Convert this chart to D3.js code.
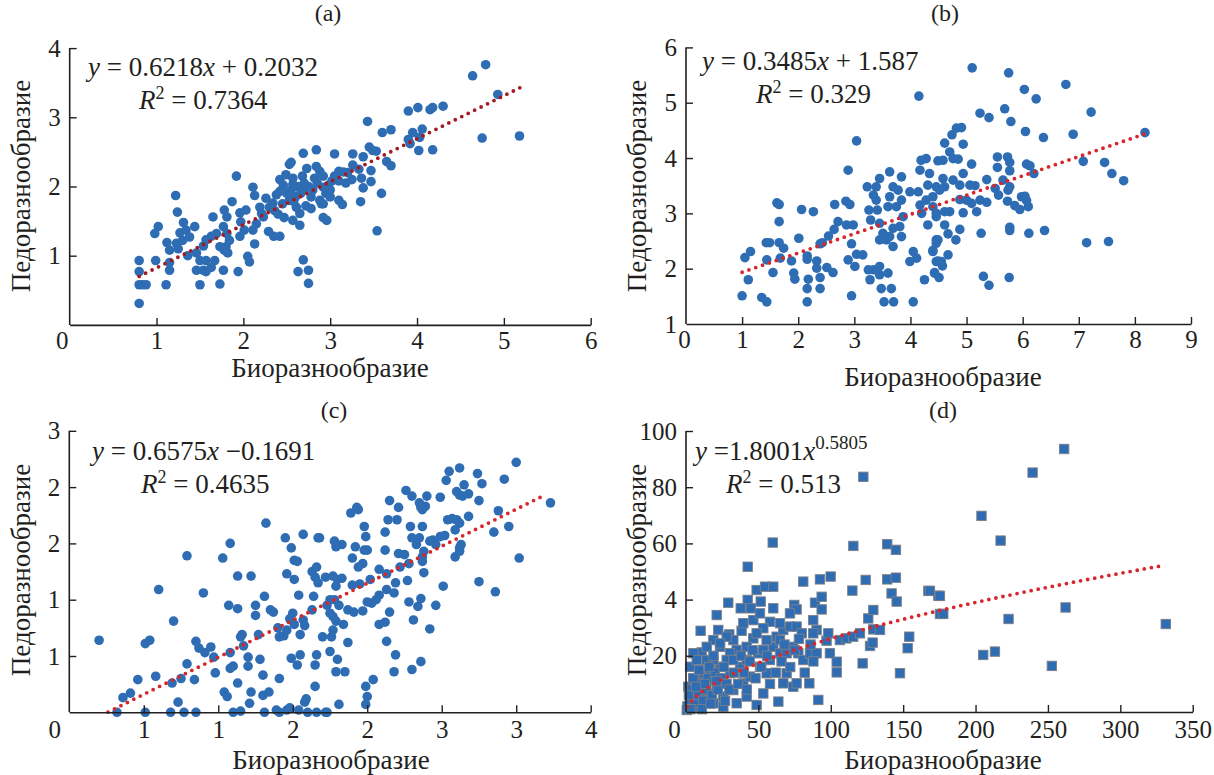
<!DOCTYPE html>
<html><head><meta charset="utf-8">
<script src="https://cdn.jsdelivr.net/npm/d3@7"></script>
<style>
body{margin:0;background:#fff}
svg{display:block}
text{font-family:"Liberation Serif","Times New Roman",Times,serif;fill:#231f20}
</style>
</head><body>
<svg id="chart" width="1214" height="775"></svg>
<script>
// ---------- DATA ----------
const pointsA = [[0.80,0.31],[0.80,0.58],[0.84,0.58],[0.88,0.58],[0.80,0.77],[0.80,0.93],[0.99,0.93],[1.11,0.58],[1.15,0.79],[1.15,0.90],[0.98,1.32],[1.02,1.42],[1.12,1.19],[1.15,1.08],[1.22,1.87],[1.24,1.63],[1.31,1.48],[1.27,1.33],[1.34,1.37],[1.44,1.42],[1.25,1.10],[1.23,1.18],[1.30,1.22],[1.38,1.27],[1.36,1.00],[1.46,1.04],[1.54,1.14],[1.57,1.23],[1.63,1.28],[1.69,1.32],[1.46,0.79],[1.54,0.79],[1.57,0.77],[1.63,0.83],[1.67,0.93],[1.57,0.93],[1.50,0.93],[1.50,0.58],[1.73,0.59],[1.77,0.79],[1.65,1.56],[1.78,1.66],[1.81,1.56],[1.87,1.78],[1.77,1.42],[1.81,1.32],[1.84,1.22],[1.78,1.08],[1.82,1.04],[1.73,1.13],[1.80,1.13],[1.92,2.15],[1.94,0.77],[2.05,0.99],[2.07,0.91],[1.96,1.62],[2.03,1.66],[1.97,1.49],[2.01,1.37],[1.96,1.28],[2.11,1.99],[2.13,1.87],[2.19,1.70],[2.21,1.61],[2.15,1.46],[2.11,1.37],[2.13,1.17],[2.23,1.56],[2.29,1.35],[2.35,1.28],[2.42,1.28],[2.26,1.83],[2.34,1.76],[2.38,1.88],[2.42,1.93],[2.42,2.10],[2.49,2.17],[2.57,2.12],[2.53,2.32],[2.55,2.35],[2.57,2.03],[2.69,2.48],[2.84,2.53],[2.73,2.26],[2.84,2.29],[2.88,2.22],[2.92,2.15],[2.53,1.80],[2.61,1.70],[2.65,1.61],[2.57,1.51],[2.65,1.44],[2.69,0.94],[2.63,0.77],[2.75,0.79],[2.75,0.60],[2.30,1.70],[2.36,1.65],[2.45,1.75],[2.50,1.90],[2.55,1.95],[2.60,1.85],[2.62,2.00],[2.66,1.90],[2.70,2.05],[2.75,2.00],[2.78,1.85],[2.80,1.95],[2.85,2.05],[2.88,1.80],[2.72,1.72],[2.78,1.68],[2.90,1.75],[2.95,1.90],[2.98,2.02],[3.00,1.85],[2.40,1.60],[2.47,1.55],[2.70,1.95],[2.82,2.12],[2.58,1.78],[2.68,2.15],[2.46,2.02],[4.79,3.76],[4.64,3.60],[4.93,3.33],[5.18,2.73],[4.75,2.70],[3.90,3.09],[4.01,3.14],[4.15,3.11],[4.18,3.14],[4.30,3.16],[3.43,2.94],[3.95,2.78],[3.90,2.68],[4.03,2.71],[4.06,2.83],[3.92,2.62],[4.02,2.52],[4.18,2.53],[3.45,2.57],[3.49,2.52],[3.53,2.51],[3.38,2.43],[3.26,2.47],[3.26,2.31],[3.60,2.78],[3.70,2.82],[3.65,2.36],[3.70,2.30],[3.33,2.25],[3.47,2.23],[3.36,2.12],[3.47,2.07],[3.38,1.98],[3.35,1.78],[3.59,1.90],[3.54,1.36],[3.05,2.47],[3.10,2.22],[3.15,2.21],[3.10,2.08],[3.02,2.08],[2.92,1.99],[3.00,1.95],[3.10,1.80],[3.14,1.74],[2.92,1.75],[2.96,1.51],[2.92,1.55],[3.20,2.20],[3.18,2.05],[3.25,2.10],[3.05,2.15]];

const pointsB = [[1.00,1.51],[1.05,2.20],[1.15,2.31],[1.11,1.80],[1.35,1.48],[1.44,1.40],[1.43,2.47],[1.49,2.47],[1.44,2.16],[1.55,1.93],[1.62,3.19],[1.66,3.16],[1.66,2.85],[1.66,2.47],[1.74,2.37],[1.68,2.19],[1.88,2.14],[1.92,1.92],[1.94,1.81],[2.01,2.55],[2.06,3.07],[2.16,2.23],[2.16,2.17],[2.18,1.81],[2.16,1.64],[2.16,1.40],[2.27,3.03],[2.33,2.14],[2.33,2.01],[2.39,1.84],[2.39,1.64],[2.39,2.45],[2.43,2.47],[2.54,2.59],[2.51,2.02],[2.62,1.93],[2.64,2.71],[2.65,3.16],[2.71,2.85],[2.89,3.78],[2.85,3.22],[2.92,3.16],[2.86,2.79],[2.98,2.79],[2.95,2.45],[2.89,2.16],[3.04,2.26],[3.01,2.04],[3.15,2.25],[2.95,1.51],[3.04,4.31],[3.23,3.48],[3.26,3.06],[3.29,2.88],[3.34,3.33],[3.39,3.48],[3.39,3.24],[3.41,3.06],[3.45,2.82],[3.51,2.64],[3.45,2.52],[3.57,2.52],[3.63,2.58],[3.69,2.73],[3.60,3.12],[3.63,3.30],[3.69,3.48],[3.78,3.42],[3.75,3.12],[3.84,3.24],[3.87,2.94],[3.81,2.76],[3.84,2.58],[3.69,2.40],[3.45,3.63],[3.63,3.75],[3.84,3.66],[3.25,1.98],[3.28,1.80],[3.34,1.98],[3.45,2.04],[3.45,1.89],[3.48,1.64],[3.60,1.92],[3.66,1.64],[3.53,1.40],[3.70,1.40],[3.99,3.39],[4.14,3.39],[4.05,2.31],[3.99,2.13],[4.11,2.19],[4.05,1.40],[4.25,1.80],[4.15,5.12],[4.17,3.78],[4.28,3.99],[4.19,3.96],[4.34,3.72],[4.31,3.51],[4.40,3.30],[4.28,3.24],[4.17,3.15],[4.20,3.00],[4.31,2.79],[4.46,3.00],[4.46,2.52],[4.40,2.31],[4.46,2.13],[4.43,1.92],[5.10,5.63],[5.75,5.54],[6.77,5.33],[6.03,5.24],[6.24,5.07],[5.24,4.81],[5.40,4.73],[5.68,4.89],[5.79,4.66],[7.22,4.83],[6.05,4.48],[6.37,4.37],[6.90,4.43],[8.18,4.46],[4.82,4.54],[4.91,4.55],[4.74,4.42],[4.61,4.27],[4.94,4.25],[4.70,4.11],[4.76,3.99],[4.85,3.98],[4.58,3.96],[4.49,3.95],[5.09,3.89],[5.55,4.02],[5.73,4.02],[5.55,3.83],[5.77,3.92],[5.77,3.77],[6.07,3.89],[6.13,3.86],[6.20,3.72],[7.08,3.94],[7.46,3.92],[7.59,3.72],[7.80,3.59],[4.94,3.72],[4.58,3.63],[4.76,3.60],[4.88,3.51],[4.61,3.48],[4.46,3.48],[4.52,3.42],[5.36,3.61],[5.51,3.45],[5.65,3.60],[5.77,3.48],[5.74,3.42],[5.57,3.33],[5.06,3.51],[5.15,3.50],[5.24,3.24],[5.09,3.18],[5.00,3.24],[4.88,3.25],[5.18,3.03],[4.94,3.01],[4.70,3.03],[4.61,3.03],[4.46,2.94],[4.40,3.12],[5.73,3.22],[5.86,3.14],[5.95,3.07],[5.98,3.30],[6.04,3.31],[6.07,3.23],[6.10,3.12],[5.36,3.20],[5.26,2.64],[5.77,2.75],[5.77,2.69],[6.11,2.64],[6.39,2.69],[7.14,2.47],[7.53,2.49],[4.88,2.71],[4.81,2.52],[4.67,2.63],[4.61,2.79],[4.49,2.52],[4.46,2.46],[4.40,2.33],[4.67,2.25],[4.49,2.14],[4.55,2.13],[4.57,2.05],[4.43,1.93],[4.51,1.84],[5.30,1.86],[5.40,1.70],[5.76,1.84]];

const pointsC = [[0.20,0.64],[0.32,0],[0.51,0],[0.68,0],[0.77,0],[0.85,0],[0.36,0.13],[0.41,0.17],[0.46,0.29],[0.51,0.61],[0.54,0.64],[0.58,0.32],[0.60,1.09],[0.70,0.81],[0.69,0.26],[0.73,0.09],[0.75,0.30],[0.79,1.39],[0.79,0.43],[0.84,0.29],[0.85,0.63],[0.87,0.57],[0.91,0.53],[0.95,0.58],[0.90,1.06],[0.97,0.49],[0.98,0.35],[1.03,1.37],[1.08,1.50],[1.07,0.95],[1.08,0.53],[1.10,0.41],[1.08,0.39],[1.04,0.18],[1.06,0.14],[1.10,0],[1.15,0.01],[1.13,1.21],[1.22,1.21],[1.13,0.92],[1.15,0.67],[1.16,0.69],[1.17,0.59],[1.20,0.49],[1.20,0.41],[1.13,0.26],[1.22,0.18],[1.21,0.08],[1.25,0.95],[1.25,0.86],[1.27,0.69],[1.28,0.47],[1.30,0.33],[1.30,0.15],[1.34,0.18],[1.32,1.68],[1.31,1.03],[1.35,0.91],[1.37,0.89],[1.31,0],[1.39,0.02],[1.41,0],[1.46,0.02],[1.48,0.04],[1.54,0.02],[1.60,0],[1.66,0],[1.73,0],[1.40,0.75],[1.41,0.67],[1.44,0.68],[1.46,0.73],[1.48,0.83],[1.50,0.88],[1.51,0.78],[1.55,0.69],[1.41,0.30],[1.49,0.48],[1.53,0.42],[1.55,0.51],[1.58,0.09],[1.59,0.12],[1.45,1.55],[1.49,1.46],[1.46,1.23],[1.51,1.35],[1.53,1.34],[1.51,1.18],[1.54,1.04],[1.57,1.58],[1.67,1.55],[1.63,1.25],[1.65,1.20],[1.67,1.15],[1.66,1.29],[1.64,1.03],[1.63,0.91],[1.58,0.77],[1.57,0.82],[1.66,0.51],[1.65,0.42],[1.65,0.23],[1.72,1.20],[1.73,0.95],[1.75,0.88],[1.72,0],[1.81,0.07],[1.99,0.07],[2.00,0.14],[1.99,0.23],[2.04,0.29],[1.79,0.36],[1.85,0.36],[1.80,0.47],[1.75,0.54],[1.87,0.62],[2.13,0.63],[2.19,0.51],[2.18,0.36],[2.30,0.38],[2.36,0.45],[1.70,0.67],[1.76,0.67],[1.77,0.73],[1.77,0.85],[1.79,0.81],[1.84,0.78],[2.08,0.78],[2.12,0.80],[2.31,0.82],[2.42,0.74],[1.75,1.00],[1.78,1.00],[1.81,0.95],[1.87,0.91],[1.91,0.89],[1.97,0.90],[2.00,0.98],[2.03,0.97],[2.06,1.00],[2.08,1.04],[2.13,1.09],[2.15,0.89],[2.18,1.06],[2.19,1.15],[2.28,0.98],[2.34,0.94],[2.36,1.01],[2.46,0.95],[1.77,1.21],[1.80,1.18],[1.83,1.19],[1.79,1.12],[1.90,1.13],[1.95,1.14],[2.02,1.18],[2.08,1.27],[2.13,1.23],[2.27,1.17],[2.38,1.24],[2.51,1.12],[1.68,1.55],[1.78,1.52],[1.79,1.47],[1.83,1.49],[1.92,1.47],[1.98,1.44],[2.00,1.44],[1.90,1.37],[1.97,1.32],[1.94,1.29],[2.12,1.44],[2.21,1.41],[2.25,1.40],[2.22,1.29],[2.28,1.32],[2.37,1.38],[2.37,1.34],[2.38,1.43],[2.46,1.49],[2.44,1.53],[2.49,1.56],[2.52,1.57],[2.33,1.49],[2.30,1.55],[2.35,1.55],[2.42,1.52],[1.89,1.77],[1.93,1.82],[1.94,1.80],[1.98,1.65],[1.99,1.56],[2.12,1.60],[2.14,1.71],[2.20,1.71],[2.21,1.82],[2.15,1.88],[2.26,1.97],[2.30,1.92],[2.29,1.65],[2.37,1.65],[2.35,1.86],[2.36,1.82],[2.37,1.80],[2.39,1.83],[2.40,1.92],[2.49,1.91],[2.53,2.06],[2.55,2.14],[2.62,2.17],[2.65,2.02],[2.74,2.12],[2.77,2.03],[2.92,2.07],[3.00,2.22],[2.75,1.88],[2.68,1.94],[2.60,1.96],[2.62,1.93],[2.64,1.92],[2.68,1.74],[2.54,1.71],[2.57,1.72],[2.60,1.71],[2.62,1.68],[2.59,1.62],[2.85,1.60],[2.95,1.65],[2.88,1.79],[3.23,1.86],[3.02,1.37],[2.75,1.16],[2.86,1.07],[2.59,1.38],[2.62,1.46],[2.63,1.49],[2.62,1.43]];

const pointsD = [[122.5,83.7],[59.9,60.3],[115.6,59.1],[139.0,59.7],[145.0,57.7],[42.6,51.7],[99.9,48.2],[92.5,47.2],[81.0,46.4],[124.1,47.0],[139.0,47.2],[145.0,47.8],[167.4,43.1],[174.3,41.4],[48.8,43.4],[54.6,44.6],[60.3,44.6],[51.6,39.3],[42.6,39.9],[37.8,36.9],[44.7,36.9],[29.2,38.9],[21.2,34.5],[60.3,36.9],[74.8,38.1],[76.4,36.5],[89.1,38.9],[93.7,41.0],[93.7,36.5],[114.9,43.2],[125.9,33.3],[129.4,36.3],[142.0,42.2],[145.5,39.3],[10.1,28.9],[22.3,29.2],[29.9,27.6],[38.4,28.9],[46.5,26.2],[10.8,21.2],[18.9,25.6],[23.5,23.2],[129.4,29.4],[134.0,29.2],[127.1,23.5],[128.9,24.7],[154.2,26.8],[153.1,22.7],[122.0,17.3],[147.8,13.8],[104.1,14.1],[104.1,17.9],[97.1,25.4],[98.3,28.0],[90.2,29.2],[87.9,32.7],[85.2,10.2],[91.4,4.3],[63.8,3.7],[48.8,2.5],[2.8,3.1],[5.1,6.6],[1.6,9.0],[7.4,10.2],[12.0,12.6],[16.6,14.9],[14.3,6.6],[21.2,9.0],[25.8,11.4],[25.8,5.5],[30.4,13.8],[32.7,7.8],[37.3,16.1],[39.6,10.2],[41.9,18.5],[44.2,12.6],[49.9,20.9],[51.1,16.1],[53.4,22.1],[55.7,13.8],[58.0,18.5],[60.3,23.2],[62.6,26.8],[64.9,20.9],[67.2,29.2],[69.5,13.8],[71.8,30.4],[74.1,23.2],[76.4,30.4],[77.6,20.9],[79.9,28.0],[64.9,31.6],[58.0,32.1],[53.4,29.8],[48.8,28.0],[41.9,23.2],[35.0,22.1],[30.4,20.9],[28.1,18.5],[23.5,16.1],[18.9,18.5],[9.7,13.8],[6.2,11.4],[3.9,5.5],[18.9,3.1],[35.0,3.1],[41.9,5.5],[53.4,6.6],[67.2,10.2],[74.1,9.0],[76.4,10.2],[9.7,5.5],[0.5,0.7],[7.4,1.9],[25.8,1.9],[16.6,4.3],[32.7,18.5],[46.5,32.7],[39.6,31.6],[32.7,25.6],[28.1,26.8],[55.7,25.6],[64.9,25.6],[69.5,20.9],[81.0,18.5],[85.6,20.9],[99.4,20.9],[106.3,25.6],[110.8,26.2],[115.5,26.8],[120.2,28.0],[87.9,28.0],[90.2,20.9],[71.8,35.1],[51.1,35.1],[23.5,24.4],[14.3,23.2],[5.1,20.9],[2.8,16.1],[7.4,18.5],[14.3,18.5],[18.9,11.4],[9.7,9.0],[1,2],[3,4],[4,8],[6,3],[8,6],[10,10],[12,4],[14,8],[15,12],[18,6],[20,14],[5,12],[2,6],[9,15],[11,1],[13,10],[16,16],[22,8],[24,12],[26,16],[28,10],[17,3],[7,9],[3,1],[19,20],[21,11],[27,4],[30,8],[33,14],[36,10],[38,20],[40,14],[42,8],[44,18],[46,22],[48,12],[52,16],[56,20],[58,10],[62,14],[66,18],[68,24],[72,16],[75,22],[78,26],[82,14],[86,24],[88,18],[261.2,93.6],[239.4,85.2],[204.1,69.8],[217.3,61.0],[175.4,41.3],[168.5,43.1],[175.4,34.9],[177.7,34.9],[222.8,33.1],[262.2,37.2],[331.4,31.3],[205.3,20.3],[213.4,21.5],[252.7,16.4]];

const xTicksA = [0,1,2,3,4,5,6], xLabelsA = ["0","1","2","3","4","5","6"];
const yTicksA = [1,2,3,4],       yLabelsA = ["1","2","3","4"];
const xTicksB = [0,1,2,3,4,5,6,7,8,9], xLabelsB = ["0","1","2","3","4","5","6","7","8","9"];
const yTicksB = [1,2,3,4,5,6],   yLabelsB = ["1","2","3","4","5","6"];
const xTicksC = [0,0.5,1,1.5,2,2.5,3,3.5], xLabelsC = ["0","1","1","2","2","3","3","4"];
const yTicksC = [0.5,1,1.5,2,2.5], yLabelsC = ["1","1","2","2","3"];
const xTicksD = [0,50,100,150,200,250,300,350], xLabelsD = ["0","50","100","150","200","250","300","350"];
const yTicksD = [20,40,60,80,100], yLabelsD = ["20","4","60","80","100"];

const titles = ["(a)","(b)","(c)","(d)"];
const xTitle = "Биоразнообразие";
const yTitle = "Педоразнообразие";
const fitA = {a:0.6218, b:0.2032, r2:"0.7364", x0:0.8, x1:5.2};
const fitB = {a:0.3485, b:1.587, r2:"0.329", x0:1.0, x1:8.2};
const fitC = {a:0.6575, b:-0.1691, r2:"0.4635", x0:0.26, x1:3.2};
const fitD = {a:1.8001, p:0.5805, r2:"0.513", x0:1, x1:331};

// ---------- DRAW ----------
const svg = d3.select("#chart");
const BLUE = "#2e6db4";
const FONT = '"Liberation Serif","Times New Roman",Times,serif';

function panel(o){
  const g = svg.append("g");
  const x = d3.scaleLinear().domain(o.xd).range(o.xr);
  const y = d3.scaleLinear().domain(o.yd).range(o.yr);

  if (o.square){
    g.append("g").selectAll("rect").data(o.data).join("rect")
      .attr("x", d=>x(d[0])-4.7).attr("y", d=>y(d[1])-4.7)
      .attr("width",9.4).attr("height",9.4)
      .attr("fill",BLUE).attr("stroke","#7d7f86").attr("stroke-width",0.9);
  } else {
    g.append("g").selectAll("circle").data(o.data).join("circle")
      .attr("cx", d=>x(d[0])).attr("cy", d=>y(d[1])).attr("r",4.8)
      .attr("fill",BLUE);
  }

  const xs = d3.range(o.fit.x0, o.fit.x1, (o.fit.x1-o.fit.x0)/300).concat([o.fit.x1]);
  const f = o.fit.p ? (v=>o.fit.a*Math.pow(v,o.fit.p)) : (v=>o.fit.a*v+o.fit.b);
  g.append("path").datum(xs)
    .attr("d", d3.line().x(v=>x(v)).y(v=>y(f(v))))
    .attr("fill","none").attr("stroke",o.trendColor).attr("stroke-width",3.8)
    .attr("stroke-linecap","round").attr("stroke-dasharray","0 7.2");

  const ax = d3.axisBottom(x).tickValues(o.xt).tickFormat((d,i)=>o.xl[i])
      .tickSizeInner(-7).tickSizeOuter(0).tickPadding(o.xpad);
  const xg = g.append("g").attr("transform",`translate(0,${o.yr[0]})`).call(ax);
  const ay = d3.axisLeft(y).tickValues(o.yt).tickFormat((d,i)=>o.yl[i])
      .tickSizeInner(-7).tickSizeOuter(0).tickPadding(9);
  const yg = g.append("g").attr("transform",`translate(${o.xr[0]},0)`).call(ay);
  [xg,yg].forEach(a=>{
    a.attr("font-family",FONT);
    a.select(".domain").attr("stroke","#231f20").attr("stroke-width",1.6);
    a.selectAll(".tick line").attr("stroke","#231f20").attr("stroke-width",1.4);
    a.selectAll("text").style("font-family",FONT).style("font-size","25px").attr("fill","#231f20");
  });
  yg.select(".domain").attr("d",`M0,${o.yr[0]}V${y(o.yt[o.yt.length-1])}`);
  xg.selectAll(".tick").filter(d=>d===o.xt[0]).select("line").remove();
  xg.selectAll(".tick").filter(d=>d===o.xt[0]).select("text").attr("dx",o.zeroDx);
  if (o.yd[0]===o.yt[0]) yg.selectAll(".tick").filter(d=>d===o.yt[0]).select("line").remove();

  g.append("text").attr("x",o.titlePos[0]).attr("y",o.titlePos[1]).attr("text-anchor","middle")
    .style("font-size","24px").text(o.title);
  g.append("text").attr("x",o.xTitlePos[0]).attr("y",o.xTitlePos[1]).attr("text-anchor","middle")
    .style("font-size","27px").text(xTitle);
  g.append("text").attr("transform",`translate(${o.yTitlePos[0]},${o.yTitlePos[1]}) rotate(-90)`)
    .attr("text-anchor","middle").style("font-size","27px").text(yTitle);

  const eq = g.append("text").attr("x",o.eqPos[0]).attr("y",o.eqPos[1]).style("font-size","27px");
  eq.append("tspan").style("font-style","italic").text("y");
  if (o.fit.p){
    eq.append("tspan").text(" =" + o.fit.a.toFixed(4));
    eq.append("tspan").style("font-style","italic").text("x");
    eq.append("tspan").attr("dy",-11).style("font-size","19px").text(o.fit.p.toFixed(4));
  } else {
    eq.append("tspan").text(" = " + o.fit.a.toFixed(4));
    eq.append("tspan").style("font-style","italic").text("x");
    eq.append("tspan").text(o.fit.b < 0 ? " \u2212" + (-o.fit.b).toFixed(4) : " + " + String(o.fit.b));
  }
  const r = g.append("text").attr("x",o.rPos[0]).attr("y",o.rPos[1]).style("font-size","27px");
  r.append("tspan").style("font-style","italic").text("R");
  r.append("tspan").attr("dy",-10).style("font-size","18px").text("2");
  r.append("tspan").attr("dy",10).text(" = " + o.fit.r2);
}

panel({data:pointsA, xd:[0,6], yd:[0,4], xr:[69.7,590.7], yr:[324.9,48.1],
  xt:xTicksA, xl:xLabelsA, yt:yTicksA, yl:yLabelsA, xpad:6, zeroDx:-8,
  fit:fitA, trendColor:"#a31a22", title:titles[0], titlePos:[328,21],
  xTitlePos:[330,377], yTitlePos:[30,186], eqPos:[88,76], rPos:[139,109]});

panel({data:pointsB, xd:[0,9], yd:[1,6], xr:[686,1191], yr:[324,47.4],
  xt:xTicksB, xl:xLabelsB, yt:yTicksB, yl:yLabelsB, xpad:6, zeroDx:-2,
  fit:fitB, trendColor:"#d8272c", title:titles[1], titlePos:[945,21],
  xTitlePos:[943,386], yTitlePos:[646,186], eqPos:[702,70], rPos:[756,103]});

panel({data:pointsC, xd:[0,3.5], yd:[0,2.5], xr:[69.3,590.7], yr:[712.3,430.8],
  xt:xTicksC, xl:xLabelsC, yt:yTicksC, yl:yLabelsC, xpad:8, zeroDx:-15,
  fit:fitC, trendColor:"#d8272c", title:titles[2], titlePos:[334,418],
  xTitlePos:[331,769], yTitlePos:[30,570], eqPos:[92,460], rPos:[141,493]});

panel({data:pointsD, square:true, xd:[0,350], yd:[0,100], xr:[686,1192.7], yr:[712,431],
  xt:xTicksD, xl:xLabelsD, yt:yTicksD, yl:yLabelsD, xpad:8, zeroDx:-12,
  fit:fitD, trendColor:"#d8272c", title:titles[3], titlePos:[943,418],
  xTitlePos:[943,769], yTitlePos:[646,570], eqPos:[695,460], rPos:[726,493]});
</script>
</body></html>
